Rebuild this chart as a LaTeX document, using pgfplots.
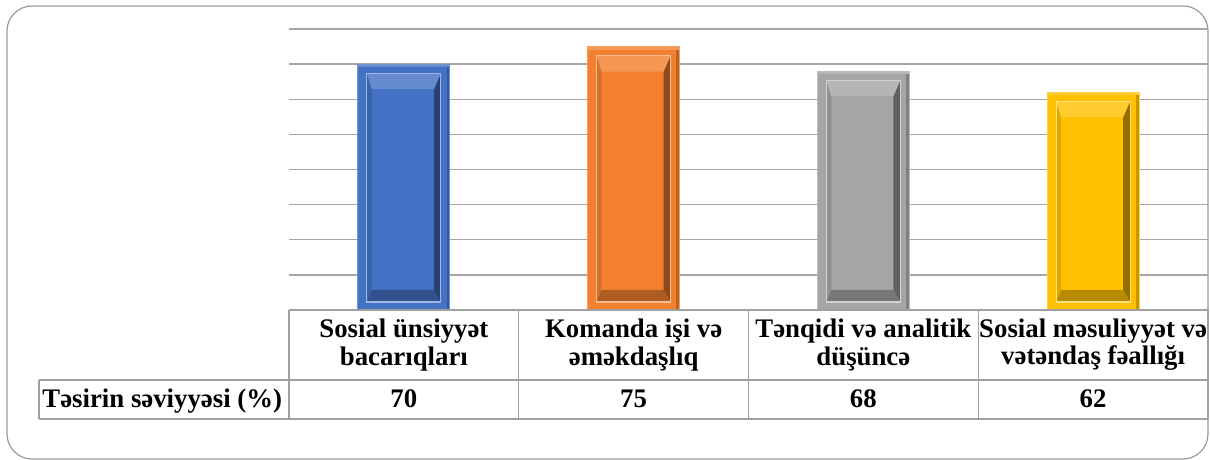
\documentclass[border=0pt]{standalone}
\usepackage{fontspec}
\setmainfont{Liberation Serif}
\usepackage{pgfplots}
\pgfplotsset{compat=1.18}

\definecolor{cblue}{HTML}{4472C4}
\definecolor{corange}{HTML}{F2802F}
\definecolor{cgray}{HTML}{A5A5A5}
\definecolor{cgold}{HTML}{FFC000}
\definecolor{gridc}{HTML}{A6A6A6}
\definecolor{tabc}{HTML}{A0A0A0}
\definecolor{bordc}{HTML}{9A9A9A}

\newcommand\tabfont{\fontsize{13.4}{13.6}\selectfont\bfseries}

% bevel drawn with basic-layer pgf only (no tikz paths -> no path picture recursion)
\newdimen\bxo \newdimen\byo \newdimen\bxe \newdimen\bye
\newdimen\pax \newdimen\pay \newdimen\pcx \newdimen\pcy
\newdimen\qax \newdimen\qay \newdimen\qcx \newdimen\qcy
\newcommand\bquad[9]{%
  \pgfsetfillcolor{#1}%
  \pgfpathmoveto{\pgfqpoint{\dimexpr#2\relax}{\dimexpr#3\relax}}%
  \pgfpathlineto{\pgfqpoint{\dimexpr#4\relax}{\dimexpr#5\relax}}%
  \pgfpathlineto{\pgfqpoint{\dimexpr#6\relax}{\dimexpr#7\relax}}%
  \pgfpathlineto{\pgfqpoint{\dimexpr#8\relax}{\dimexpr#9\relax}}%
  \pgfpathclose\pgfusepath{fill}}
\newcommand\bevelpic[1]{%
  \pgfextractx{\bxo}{\pgfpointanchor{path picture bounding box}{south west}}%
  \pgfextracty{\byo}{\pgfpointanchor{path picture bounding box}{south west}}%
  \pgfextractx{\bxe}{\pgfpointanchor{path picture bounding box}{north east}}%
  \pgfextracty{\bye}{\pgfpointanchor{path picture bounding box}{north east}}%
  \pax=\dimexpr\bxo+4.5pt\relax \pay=\dimexpr\byo+4pt\relax
  \pcx=\dimexpr\bxe-4.5pt\relax \pcy=\dimexpr\bye-4.5pt\relax
  \qax=\dimexpr\pax+2.5pt\relax \qay=\dimexpr\pay+6pt\relax
  \qcx=\dimexpr\pcx-3.5pt\relax \qcy=\dimexpr\pcy-8pt\relax
  % outer frame: dark right edge, light top edge
  \bquad{#1!78!black}{\bxe-1.6pt}{\byo}{\bxe}{\byo}{\bxe}{\bye}{\bxe-1.6pt}{\bye}%
  \bquad{#1!80!white}{\bxo}{\bye-1.5pt}{\bxe}{\bye-1.5pt}{\bxe}{\bye}{\bxo}{\bye}%
  % inner panel bevel
  \bquad{#1!88!black}{\pax}{\pay}{\qax}{\qay}{\qax}{\qcy}{\pax}{\pcy}%
  \bquad{#1!58!black}{\pcx}{\pay}{\qcx}{\qay}{\qcx}{\qcy}{\pcx}{\pcy}%
  \bquad{#1!82!white}{\pax}{\pcy}{\qax}{\qcy}{\qcx}{\qcy}{\pcx}{\pcy}%
  \bquad{#1!72!black}{\pax}{\pay}{\qax}{\qay}{\qcx}{\qay}{\pcx}{\pay}%
  \pgfsetstrokecolor{#1!50!white}\pgfsetlinewidth{0.6pt}%
  \pgfpathrectanglecorners{\pgfqpoint{\pax}{\pay}}{\pgfqpoint{\pcx}{\pcy}}%
  \pgfusepath{stroke}%
}
\tikzset{
  bevel/.style={fill=#1, draw=#1!75!white, line width=0.5pt, path picture={\bevelpic{#1}}}
}

\begin{document}
\begin{tikzpicture}
\useasboundingbox (0,0) rectangle (605pt,230pt);
\draw[bordc, line width=0.6pt, rounded corners=12.5pt] (3.5pt,0.5pt) rectangle (604pt,227pt);

\begin{axis}[
  at={(144.5pt,75pt)}, anchor=south west,
  scale only axis, width=459.5pt, height=140.5pt,
  xmin=-0.5, xmax=3.5, ymin=0, ymax=80,
  axis line style={draw=none},
  xtick={0,1,2,3},
  xticklabels={{Sosial ünsiyyət\\bacarıqları},{Komanda işi və\\əməkdaşlıq},{Tənqidi və analitik\\düşüncə},{Sosial məsuliyyət və\\vətəndaş fəallığı}},
  xticklabel style={font=\tabfont, align=center, anchor=center, yshift=-17.5pt},
  ytick={0,10,...,80}, yticklabels={},
  ymajorgrids, grid style={gridc, line width=0.65pt},
  major tick length=0pt,
  clip=false,
]
\addplot[ybar, bar width=46pt, bevel=cblue] coordinates {(0,70)};
\addplot[ybar, bar width=46pt, bevel=corange] coordinates {(1,75)};
\addplot[ybar, bar width=46pt, bevel=cgray] coordinates {(2,68)};
\addplot[ybar, bar width=46pt, bevel=cgold] coordinates {(3,62)};
\end{axis}

% data table under the bars
\begin{scope}[tabc, line width=0.6pt]
  \draw (144.5pt,75pt) -- (604pt,75pt);
  \draw (19.5pt,40pt) -- (604pt,40pt);
  \draw (19.5pt,20.5pt) -- (604pt,20.5pt);
  \draw (19.5pt,20.5pt) -- (19.5pt,40pt);
  \foreach \xx in {144.5,259.375,374.25,489.125,604}
    \draw (\xx pt,20.5pt) -- (\xx pt,75pt);
\end{scope}
\node[font=\tabfont, anchor=base west, inner sep=0pt] at (21pt,26pt) {Təsirin səviyyəsi (\%)};
\node[font=\tabfont, anchor=base] at (201.94pt,26pt) {70};
\node[font=\tabfont, anchor=base] at (316.81pt,26pt) {75};
\node[font=\tabfont, anchor=base] at (431.69pt,26pt) {68};
\node[font=\tabfont, anchor=base] at (546.56pt,26pt) {62};
\end{tikzpicture}
\end{document}
